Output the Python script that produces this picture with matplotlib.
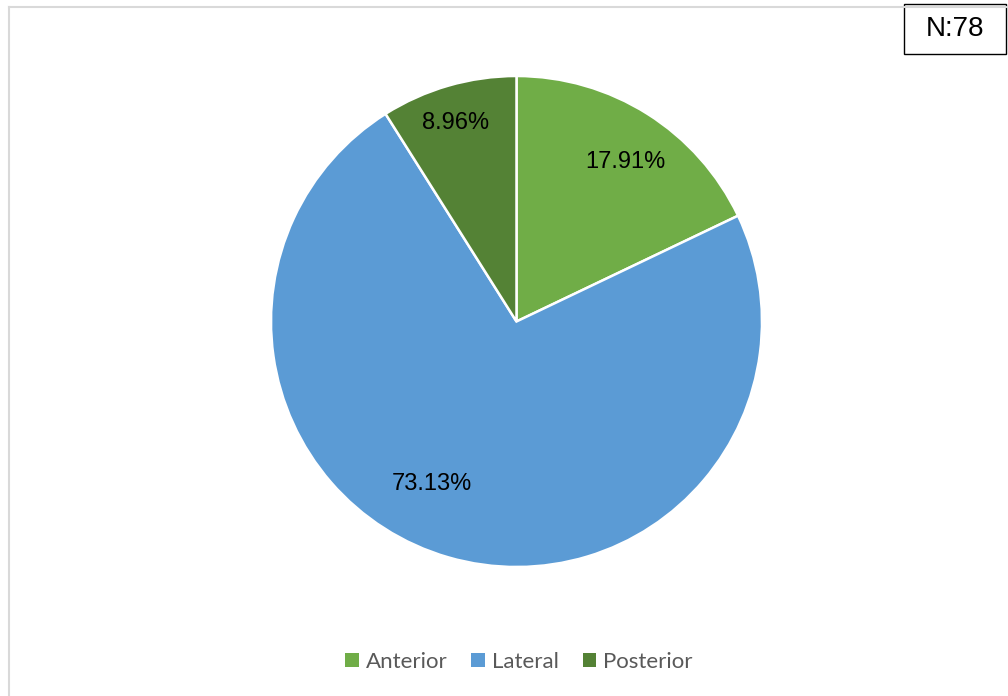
import matplotlib.pyplot as plt
from matplotlib.patches import Rectangle
from matplotlib.lines import Line2D

# fracture location counts
labels = ['Anterior', 'Lateral', 'Posterior']
counts = [12, 49, 6]
colors = ['#70AD47', '#5B9BD5', '#548235']
# where each percentage sits inside its wedge (data units, radius = 1)
label_xy = [(0.442, 0.650), (-0.344, -0.662), (-0.250, 0.809)]
n_text = 'N:78'

W, H = 1008, 696
fig = plt.figure(figsize=(W / 100, H / 100), dpi=100)

# pie axes: centre (516.5, 321.5) px from top-left, radius 245.5 px
cx, cy, r = 516.5, 321.5, 245.5
ax = fig.add_axes([(cx - r) / W, (H - cy - r) / H, 2 * r / W, 2 * r / H])
wedges, texts, autotexts = ax.pie(counts, colors=colors, startangle=90, counterclock=False,
                                  autopct='%.2f%%', radius=1,
                                  wedgeprops=dict(edgecolor='white', linewidth=1.8),
                                  textprops=dict(fontsize=17, family='Liberation Sans', color='black'))
for t, xy in zip(autotexts, label_xy):
    t.set_position(xy)
ax.set_xlim(-1, 1)
ax.set_ylim(-1, 1)
ax.set_aspect('equal')
ax.axis('off')

# chart area border (runs off the right and bottom edges)
fig.add_artist(Line2D([9 / W, 1], [1 - 7 / H, 1 - 7 / H], color='#D9D9D9', lw=1.5,
                      transform=fig.transFigure))
fig.add_artist(Line2D([9 / W, 9 / W], [0, 1 - 7 / H], color='#D9D9D9', lw=1.5,
                      transform=fig.transFigure))

# N box
fig.add_artist(Rectangle((904 / W, 1 - 54 / H), 102 / W, 50 / H, transform=fig.transFigure,
                         facecolor='white', edgecolor='black', lw=1))
fig.text(955 / W, 1 - 29.5 / H, n_text, ha='center', va='center', fontsize=20,
         family='Liberation Sans')

leg = fig.legend(wedges, labels, loc='center', bbox_to_anchor=(519 / W, 34 / H), ncol=3,
                 frameon=False, handlelength=0.6, handleheight=0.6,
                 handletextpad=0.32, columnspacing=1.08,
                 prop=dict(family='Lato', size=16))
for t in leg.get_texts():
    t.set_color('#595959')
for h in leg.legend_handles:
    h.set_edgecolor('none')

fig.savefig('out.png', dpi=100)
